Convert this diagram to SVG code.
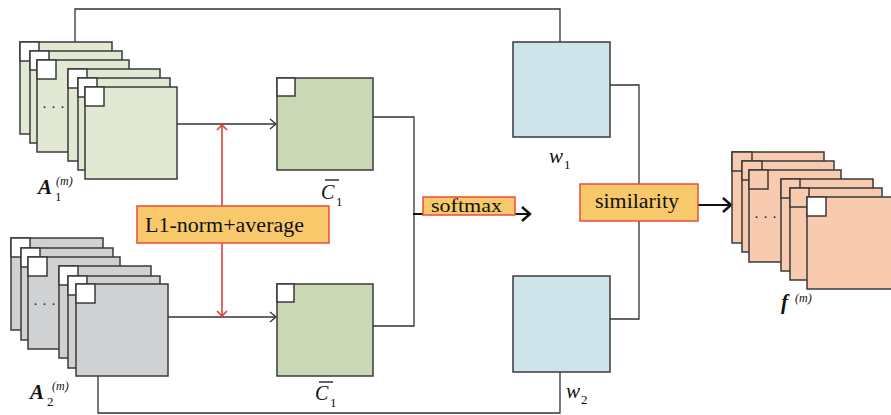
<svg xmlns="http://www.w3.org/2000/svg" width="891" height="415" viewBox="0 0 891 415">
<style>
.st{stroke:#3a3a3a;stroke-width:1.5}
.g{fill:#e1e9d5}
.gr{fill:#d0d1d3}
.pe{fill:#f8cbb0}
.cg{fill:#cbd8b5}
.bl{fill:#cfe4ea}
.cw{fill:#fff;stroke:#3a3a3a;stroke-width:1.5}
.ln{fill:none;stroke:#333;stroke-width:1.3}
.lnb{fill:none;stroke:#111;stroke-width:2.2}
.red{fill:none;stroke:#d8403a;stroke-width:1.6}
.box{fill:#f7c96b;stroke:#ee4a3d;stroke-width:1.5}
.t{font-family:"Liberation Serif",serif;fill:#111}
.m{font-family:"Liberation Serif",serif;font-style:italic;fill:#111}
.mb{font-family:"Liberation Serif",serif;font-style:italic;font-weight:bold;fill:#111}
.d{font-family:"Liberation Serif",serif;font-size:15px;fill:#222}
</style>
<defs>
<marker id="a1" markerUnits="userSpaceOnUse" markerWidth="12" markerHeight="12" viewBox="-9 -6 11 12" refX="0" refY="0" orient="auto"><path d="M-6,-5 L0,0 L-6,5" fill="none" stroke="#333" stroke-width="1.3"/></marker>
<marker id="ar" markerUnits="userSpaceOnUse" markerWidth="12" markerHeight="12" viewBox="-8 -6 10 12" refX="0" refY="0" orient="auto"><path d="M-5,-5 L0,0 L-5,5" fill="none" stroke="#d8403a" stroke-width="1.6"/></marker>
<marker id="ab" markerUnits="userSpaceOnUse" markerWidth="14" markerHeight="18" viewBox="-11 -9 13 18" refX="0" refY="0" orient="auto"><path d="M-8,-7 L0,0 L-8,7" fill="none" stroke="#111" stroke-width="2.4"/></marker>
</defs>
<rect width="891" height="415" fill="#fff"/>

<g id="connectors">
<path class="ln" d="M75,42 V9 H560 V42"/>
<path class="ln" d="M98,376 V413 H560 V372"/>
<path class="ln" d="M177,124 H276" marker-end="url(#a1)"/>
<path class="ln" d="M168,317 H276" marker-end="url(#a1)"/>
<path class="ln" d="M373,117 H414 V326 H373"/>
<path class="lnb" d="M413,214 H530" marker-end="url(#ab)"/>
<path class="ln" d="M610,85 H639 V319 H610"/>
<path class="lnb" d="M698,205 H731" marker-end="url(#ab)"/>
<path class="red" d="M222,206 V125" marker-end="url(#ar)"/>
<path class="red" d="M222,243 V316" marker-end="url(#ar)"/>
</g>

<g id="A1">
<rect class="g st" x="20" y="42" width="92" height="92"/><rect class="cw" x="20" y="42" width="19" height="19"/>
<rect class="g st" x="30" y="51" width="92" height="92"/><rect class="cw" x="30" y="51" width="19" height="19"/>
<rect class="g st" x="37" y="60" width="92" height="92"/><rect class="cw" x="37" y="60" width="19" height="19"/>
<text class="d" x="42 51 60" y="112">···</text>
<rect class="g st" x="68" y="69" width="92" height="92"/><rect class="cw" x="68" y="69" width="19" height="19"/>
<rect class="g st" x="78" y="78" width="92" height="92"/><rect class="cw" x="78" y="78" width="19" height="19"/>
<rect class="g st" x="85" y="87" width="92" height="92"/><rect class="cw" x="85" y="87" width="19" height="19"/>
<text class="mb" x="38" y="194" font-size="21">A</text>
<text class="t" x="55" y="201" font-size="13">1</text>
<text class="m" x="56" y="185" font-size="12">(m)</text>
</g>

<g id="A2">
<rect class="gr st" x="11" y="238" width="92" height="92"/><rect class="cw" x="11" y="238" width="19" height="19"/>
<rect class="gr st" x="21" y="248" width="92" height="92"/><rect class="cw" x="21" y="248" width="19" height="19"/>
<rect class="gr st" x="28" y="257" width="92" height="92"/><rect class="cw" x="28" y="257" width="19" height="19"/>
<text class="d" x="33 42 51" y="309">···</text>
<rect class="gr st" x="59" y="266" width="92" height="92"/><rect class="cw" x="59" y="266" width="19" height="19"/>
<rect class="gr st" x="68" y="276" width="92" height="92"/><rect class="cw" x="68" y="276" width="19" height="19"/>
<rect class="gr st" x="76" y="284" width="92" height="92"/><rect class="cw" x="76" y="284" width="19" height="19"/>
<text class="mb" x="30" y="399" font-size="21">A</text>
<text class="t" x="47" y="406" font-size="13">2</text>
<text class="m" x="52" y="390" font-size="12">(m)</text>
</g>

<g id="C1top">
<rect class="cg st" x="277" y="78" width="96" height="92"/><rect class="cw" x="277" y="78" width="18" height="18"/>
<text class="m" x="321" y="199" font-size="20">C</text>
<line x1="325" y1="180" x2="339" y2="180" stroke="#111" stroke-width="1.3"/>
<text class="t" x="336" y="206" font-size="13">1</text>
</g>

<g id="C1bottom">
<rect class="cg st" x="277" y="284" width="96" height="92"/><rect class="cw" x="277" y="284" width="17" height="18"/>
<text class="m" x="315" y="400" font-size="20">C</text>
<line x1="319" y1="382" x2="333" y2="382" stroke="#111" stroke-width="1.3"/>
<text class="t" x="330" y="407" font-size="13">1</text>
</g>

<g id="L1norm">
<rect class="box" x="137" y="206" width="192" height="37"/>
<text class="t" x="145" y="232" font-size="20" textLength="159" lengthAdjust="spacingAndGlyphs">L1-norm+average</text>
</g>

<g id="softmax">
<rect class="box" x="423" y="197" width="92" height="18"/>
<text class="t" x="431" y="212" font-size="18" textLength="71" lengthAdjust="spacingAndGlyphs">softmax</text>
</g>

<g id="w1">
<rect class="bl st" x="513" y="42" width="97" height="95"/>
<text class="m" x="549" y="163" font-size="21">w</text>
<text class="t" x="564" y="169" font-size="13">1</text>
</g>

<g id="w2">
<rect class="bl st" x="513" y="276" width="97" height="96"/>
<text class="m" x="566" y="398" font-size="21">w</text>
<text class="t" x="581" y="404" font-size="13">2</text>
</g>

<g id="similarity">
<rect class="box" x="580" y="184" width="118" height="37"/>
<text class="t" x="595" y="208" font-size="20" textLength="84" lengthAdjust="spacingAndGlyphs">similarity</text>
</g>

<g id="f">
<rect class="pe st" x="732" y="152" width="92" height="91"/><rect class="pe st" x="732" y="152" width="20" height="19"/>
<rect class="pe st" x="742" y="161" width="92" height="91"/><rect class="pe st" x="742" y="161" width="20" height="19"/>
<rect class="pe st" x="749" y="170" width="92" height="92"/><rect class="pe st" x="749" y="170" width="19" height="19"/>
<text class="d" x="754 763 772" y="222">···</text>
<rect class="pe st" x="781" y="179" width="92" height="92"/><rect class="pe st" x="781" y="179" width="19" height="19"/>
<rect class="pe st" x="790" y="188" width="92" height="92"/><rect class="pe st" x="790" y="188" width="19" height="19"/>
<rect class="pe st" x="807" y="197" width="92" height="92"/><rect class="cw" x="807" y="197" width="19" height="19"/>
<text class="mb" x="781" y="309" font-size="21">f</text>
<text class="m" x="795" y="302" font-size="12">(m)</text>
</g>
</svg>
